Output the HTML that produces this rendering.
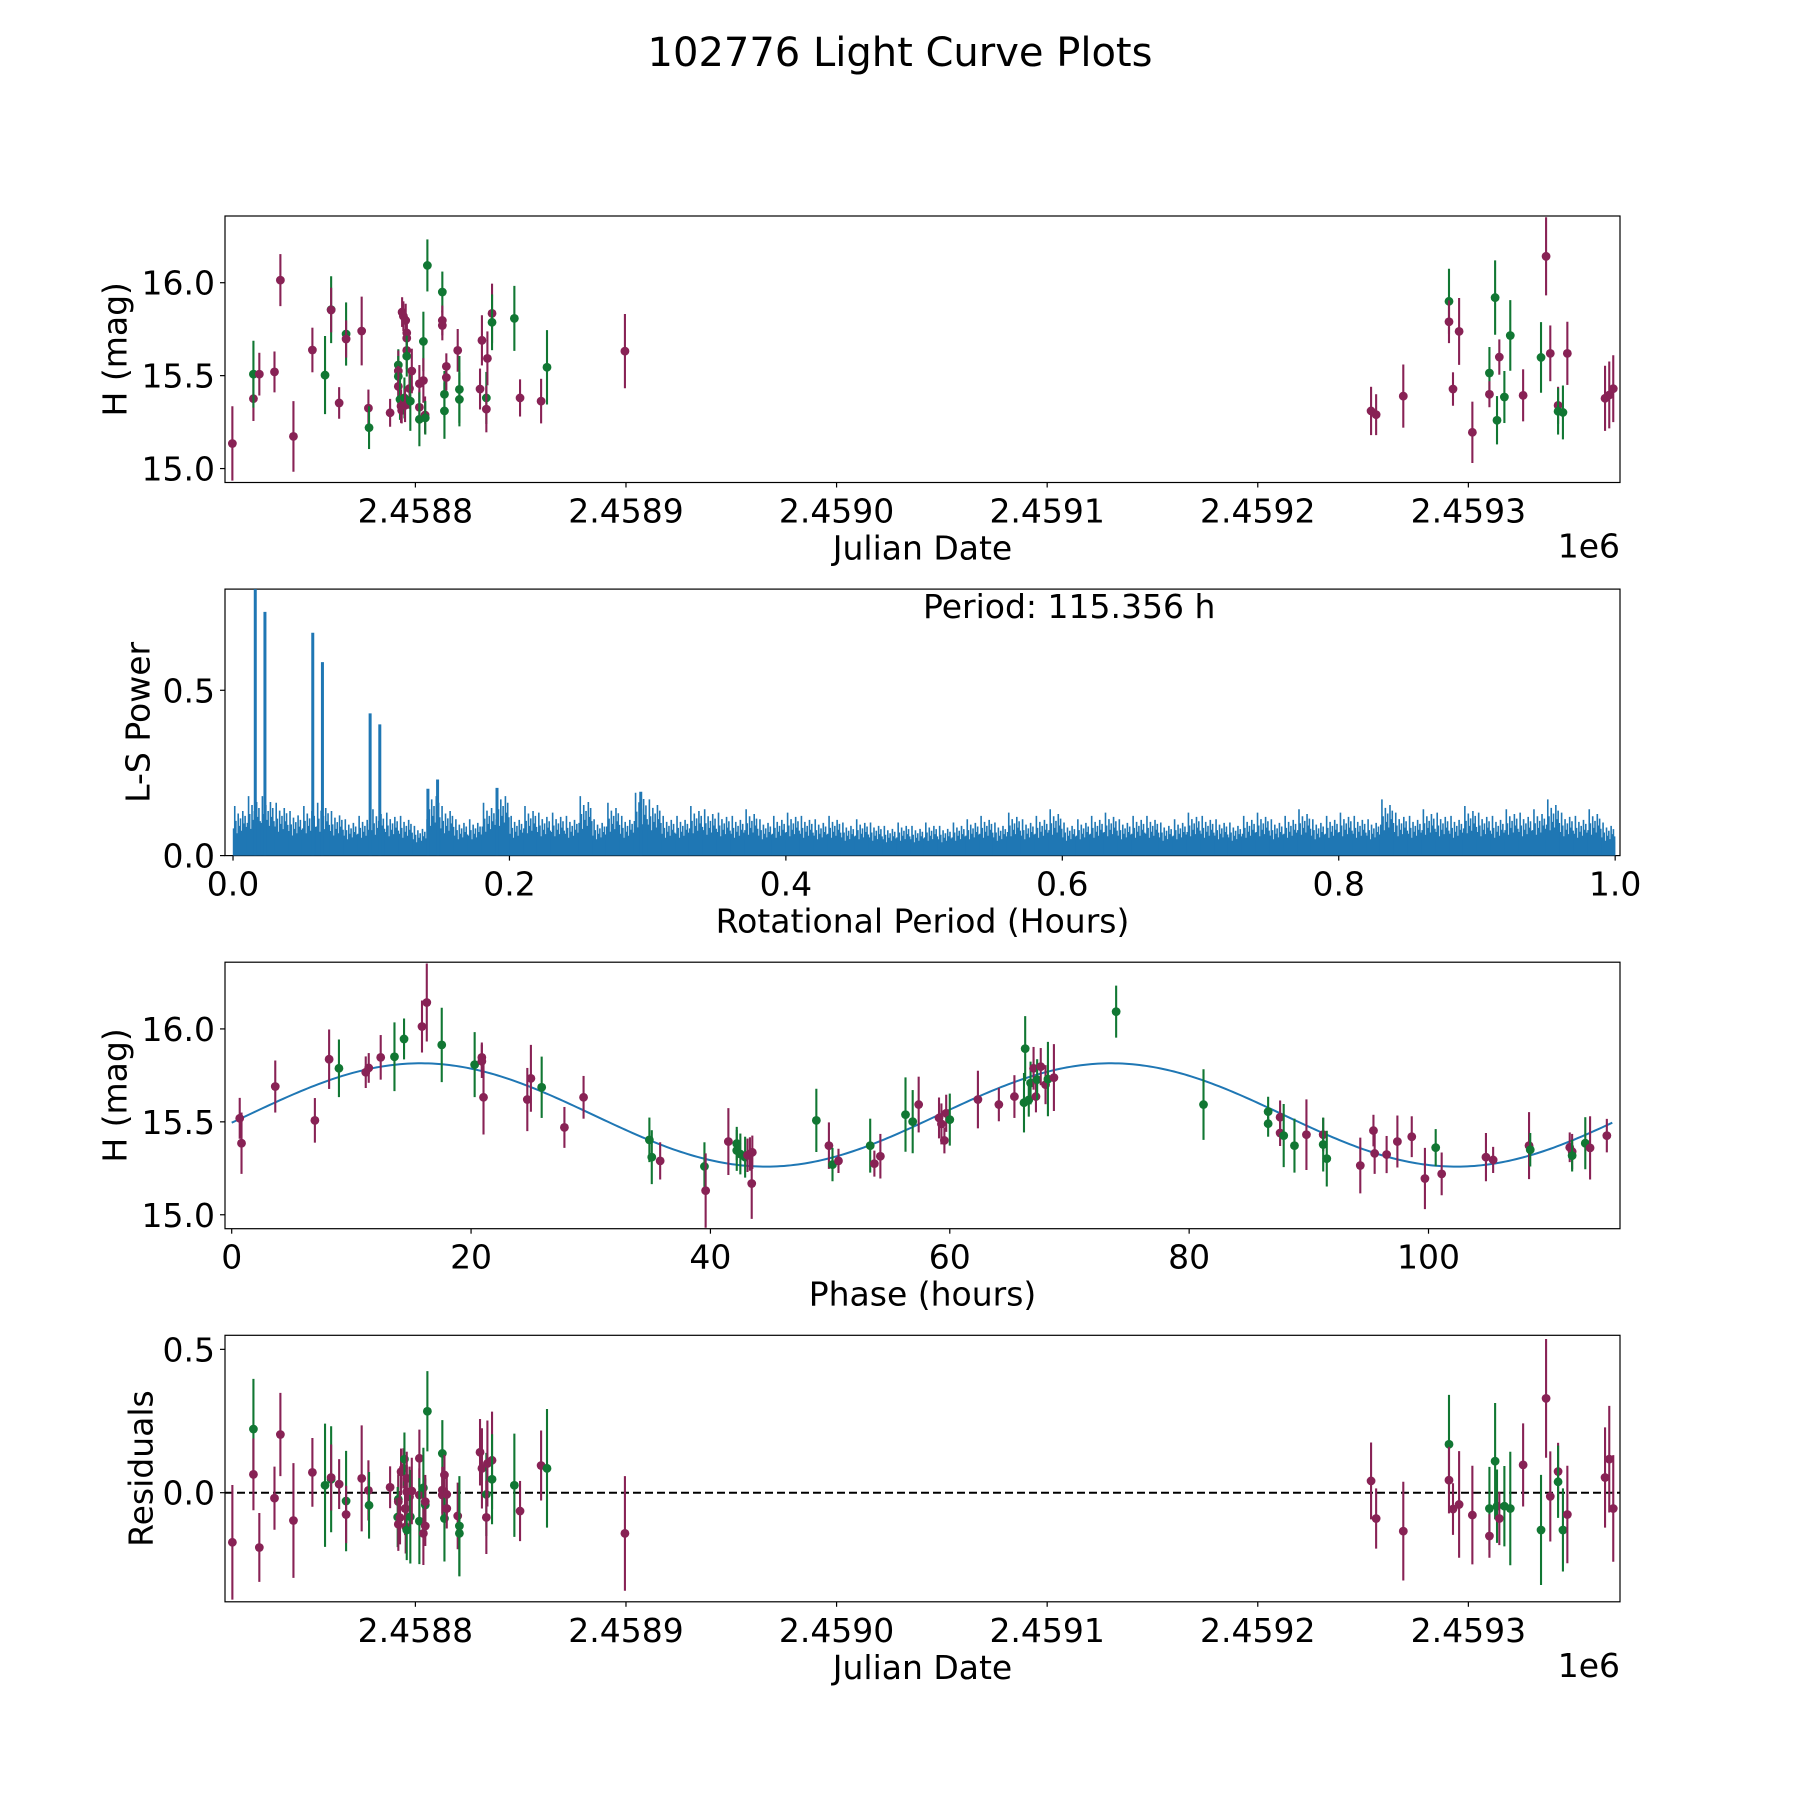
<!DOCTYPE html>
<html><head><meta charset="utf-8"><title>102776 Light Curve Plots</title>
<style>html,body{margin:0;padding:0;background:#fff}svg{display:block;font-family:"DejaVu Sans","Liberation Sans",sans-serif}</style>
</head><body>
<svg id="fig" xmlns="http://www.w3.org/2000/svg" width="1800" height="1800" viewBox="0 0 1800 1800">
<rect x="0" y="0" width="1800" height="1800" fill="#fff"/>
<text x="900" y="66" font-size="40" text-anchor="middle">102776 Light Curve Plots</text>
<g id="layer"></g>
</svg>
<script>
// ---------- Panel 1: light curve (days offset from JD 2458800) ----------
const lcDays=[-86.9,-76.9,-76.9,-74.1,-66.9,-64.1,-57.9,-48.9,-42.9,-40.0,-40.0,-36.2,-32.9,-32.9,-25.5,-22.3,-22.0,-12.0,-8.1,-8.1,-8.1,-8.1,-7.3,-6.8,-6.5,-6.3,-5.7,-5.2,-4.9,-4.6,-4.1,-4.1,-4.1,-4.1,-2.8,-2.4,-1.7,1.9,1.9,1.9,3.8,3.8,4.6,4.7,5.7,12.8,12.8,12.8,13.8,13.8,14.7,14.7,20.1,20.9,20.9,30.7,31.6,33.7,33.7,34.2,36.4,36.4,47.0,49.7,59.7,62.5,99.5,
453.8,456.2,469.1,490.8,490.8,492.7,495.6,501.9,510,510,512.7,513.6,514.7,517.1,519.9,526,534.5,536.9,538.9,542.6,542.6,544.9,547,564.9,566.9,568.8];
const lcMag=[15.135,15.376,15.508,15.508,15.52,16.014,15.173,15.638,15.503,15.855,15.853,15.353,15.724,15.697,15.74,15.325,15.22,15.3,15.557,15.525,15.496,15.442,15.372,15.336,15.313,15.842,15.82,15.38,15.34,15.797,15.73,15.702,15.636,15.605,15.431,15.363,15.525,15.457,15.33,15.265,15.684,15.474,15.288,15.273,16.093,15.95,15.797,15.77,15.4,15.31,15.55,15.49,15.636,15.426,15.372,15.428,15.69,15.38,15.32,15.593,15.835,15.787,15.808,15.38,15.363,15.545,15.632,
15.31,15.29,15.39,15.9,15.79,15.428,15.738,15.195,15.514,15.4,15.92,15.26,15.6,15.385,15.716,15.394,15.598,16.142,15.62,15.34,15.308,15.302,15.62,15.378,15.396,15.43];
const lcErr=[.2,.12,.18,.115,.11,.14,.19,.12,.21,.18,.12,.085,.17,.1,.185,.1,.115,.075,.085,.11,.11,.11,.11,.09,.07,.08,.08,.11,.09,.09,.09,.09,.1,.11,.11,.16,.12,.1,.09,.145,.16,.12,.1,.09,.14,.11,.08,.08,.125,.15,.07,.07,.115,.18,.145,.11,.135,.14,.125,.145,.16,.15,.175,.1,.12,.2,.2,
.13,.11,.17,.175,.115,.09,.18,.165,.14,.07,.2,.13,.095,.14,.19,.14,.19,.21,.15,.1,.125,.145,.17,.175,.18,.18];
const lcBand="PPGPPPPPGG"+"PPGPPPGPGP"+"GPGPPPPGPP"+"PPPGPGPPPG"+"GPPGGGPPGG"+"PPPGGPPGPP"+"PGGPPGP"+"PPPGPPPPGP"+"GGPGGPGPPP"+"GGPPPP";
const jdTicks=[2458800,2458900,2459000,2459100,2459200,2459300];
const jdTickLabels=["2.4588","2.4589","2.4590","2.4591","2.4592","2.4593"];
const magTicks=[15.0,15.5,16.0];
const magTickLabels=["15.0","15.5","16.0"];

// ---------- Panel 2: periodogram ----------
const lsEnvelope=[.15,.18,.18,.16,.135,.15,.16,.135,.11,.12,.14,.13,.12,.09,.2,.15,.11,.11,.16,.2,.12,.15,.13,.13,.12,.18,.11,.16,.12,.19,.17,.12,.12,.15,.14,
.13,.12,.14,.11,.12,.13,.12,.11,.12,.1,.11,.1,.09,.1,.09,.1,.09,.1,.11,.12,.1,.13,.11,.12,.14,.1,.11,.12,.13,.11,.12,.12,.1,.11,.13,.12,.11,.1,.12,.13,.11,.12,.14,.11,.12,.13,.12,.11,.17,.13,.12,.14,.13,.12,.15,.13,.12,.14,.13,.14,.17,.13,.12,.14,.1];
const lsSpikePeriod=[0.0161,0.0231,0.0577,0.0647,0.0992,0.1062,0.141,0.148,0.191,0.295];
const lsSpikePower=[0.81,0.737,0.674,0.585,0.43,0.397,0.202,0.23,0.205,0.193];
const perTicks=[0,0.2,0.4,0.6,0.8,1.0];
const perTickLabels=["0.0","0.2","0.4","0.6","0.8","1.0"];
const powTicks=[0,0.5];
const powTickLabels=["0.0","0.5"];

// ---------- Panel 3: phased light curve ----------
const phase=[0.67,0.82,3.64,6.95,8.14,8.96,11.2,11.45,12.45,13.6,14.4,15.9,16.3,17.55,20.3,20.9,20.9,21.04,24.7,25.0,25.9,27.8,29.4,34.9,35.1,35.8,39.5,39.6,41.5,42.2,42.2,42.5,42.9,43.1,43.3,43.5,43.45,48.85,49.9,50.2,50.7,53.35,53.7,54.2,56.3,56.9,57.4,
59.1,59.3,59.55,59.7,60.0,62.35,64.1,65.4,66.2,66.3,66.6,66.75,67.0,67.2,67.3,67.6,68.0,68.2,68.7,73.9,81.2,86.6,86.6,87.6,87.6,87.9,88.8,89.8,91.2,91.2,91.5,94.3,95.4,95.5,96.5,97.4,98.6,99.7,100.6,101.1,104.8,105.4,108.4,108.5,111.8,112.0,112.0,113.1,113.5,114.9];
const phaseMag=[15.519,15.385,15.69,15.508,15.837,15.788,15.767,15.79,15.847,15.85,15.946,16.013,16.142,15.914,15.808,15.847,15.826,15.632,15.62,15.734,15.686,15.47,15.632,15.403,15.31,15.29,15.26,15.13,15.394,15.383,15.346,15.327,15.31,15.32,15.327,15.336,15.168,15.508,15.372,15.27,15.29,15.372,15.275,15.315,15.539,15.501,15.593,
15.521,15.489,15.4,15.546,15.512,15.62,15.593,15.636,15.603,15.894,15.618,15.709,15.788,15.636,15.727,15.797,15.7,15.73,15.738,16.093,15.593,15.555,15.49,15.525,15.44,15.426,15.372,15.431,15.431,15.378,15.302,15.265,15.453,15.33,15.324,15.394,15.42,15.195,15.361,15.22,15.31,15.295,15.372,15.35,15.363,15.34,15.318,15.385,15.36,15.426];
const phaseErr=[.11,.165,.14,.12,.16,.155,.085,.08,.12,.185,.11,.14,.21,.2,.175,.08,.09,.2,.17,.18,.165,.11,.115,.12,.145,.1,.13,.2,.18,.09,.11,.11,.11,.09,.09,.09,.19,.17,.125,.09,.065,.145,.07,.12,.2,.17,.15,
.11,.11,.07,.1,.14,.155,.09,.115,.16,.175,.09,.115,.115,.085,.11,.1,.105,.2,.18,.14,.19,.08,.07,.09,.07,.17,.145,.19,.09,.145,.15,.15,.085,.11,.1,.14,.11,.165,.1,.115,.13,.07,.18,.09,.08,.095,.085,.14,.17,.09];
const phaseBand="PPPPPGPPPGGPPGGPPPPPGPPGGPGPPGGGGPPPPGPGPGPPGGP"+"PPPPGPPPGGGGPPGPPGPGGGGPPGGPPGGPPPPPPPGPPPPGPPGGP";
const fitMean=[15.537], fitAmp=[0.278], fitPhaseMax=[15.8], fitHalfPeriod=[57.678];
const phTicks=[0,20,40,60,80,100];
const phTickLabels=["0","20","40","60","80","100"];

// ---------- Panel 4: residuals ----------
const resDays=[-86.9,-76.9,-76.9,-74.1,-66.9,-64.1,-57.9,-48.9,-42.9,-40,-40,-36.2,-32.9,-32.9,-25.5,-22.3,-22,-12,-8.1,-8.1,-8.4,-8.1,-7.3,-6.8,-5.7,-5.2,-4.9,-4.6,-4.1,-4.1,-4.1,-2.8,-2.4,-1.7,1.9,1.9,1.9,3.8,3.8,4.7,4.7,4.7,5.7,12.8,12.8,12.8,13.8,13.8,14.9,14.9,20.1,20.9,20.9,30.7,31.6,33.7,33.7,34.2,36.4,36.4,47,49.7,59.7,62.5,99.5,
453.8,456.2,469.1,490.8,490.8,492.7,495.6,501.9,510,510,512.7,513.6,514.7,517.1,519.9,526,534.5,536.9,538.9,542.6,542.6,544.9,547,564.9,566.9,568.8];
const resVal=[-0.173,0.222,0.064,-0.191,-0.019,0.203,-0.097,0.071,0.026,0.047,0.053,0.03,-0.029,-0.076,0.05,0.008,-0.044,0.019,-0.023,-0.031,-0.085,-0.11,-0.087,0.073,0.085,0.117,-0.055,-0.119,-0.13,0.003,0.05,-0.014,-0.084,0.006,0.12,-0.008,-0.099,0.017,-0.142,-0.043,-0.031,-0.116,0.284,0.137,0.009,-0.008,-0.09,0.062,-0.006,-0.055,-0.081,-0.116,-0.142,0.141,0.085,-0.006,-0.086,0.102,0.113,0.047,0.026,-0.064,0.095,0.085,-0.142,
0.041,-0.09,-0.134,0.169,0.044,-0.057,-0.041,-0.078,-0.055,-0.151,0.11,-0.047,-0.09,-0.047,-0.055,0.097,-0.13,0.329,-0.013,0.074,0.038,-0.13,-0.076,0.053,0.117,-0.055];
const resErr=[.2,.175,.125,.12,.11,.145,.2,.12,.215,.185,.115,.087,.175,.1,.185,.105,.116,.073,.084,.105,.105,.093,.093,.081,.07,.093,.093,.093,.105,.093,.093,.105,.163,.116,.1,.093,.15,.14,.11,.093,.093,.07,.14,.116,.081,.081,.15,.07,.07,.07,.116,.174,.15,.116,.14,.145,.128,.15,.17,.157,.18,.105,.122,.207,.2,
.134,.105,.172,.172,.116,.09,.186,.172,.145,.076,.203,.128,.093,.14,.198,.145,.192,.207,.157,.1,.126,.145,.17,.175,.186,.186];
const resBand="PGPPPPPPGGPPGPPPGPGPGPPPPGPPGPPPGPPPGGPGPPGGPPGPPPPGGPPGPPPGGPPGP"+"PPPGPPPPGPGGPGGPGPPPGGPPPP";
const resTicks=[0,0.5];
const resTickLabels=["0.0","0.5"];

// ---------- layout ----------
const NS="http://www.w3.org/2000/svg";
const layer=document.getElementById('layer');
const L=225,R=1620,H=266.5,TOPS=[216,589.1,962.2,1335.3];
const PURPLE="#882255",GREEN="#117733",BLUE="#1f77b4";
function lin(d0,d1,p0,p1){return v=>p0+(v-d0)/(d1-d0)*(p1-p0);}
function mk(tag,attrs,parent){const e=document.createElementNS(NS,tag);for(const k in attrs)e.setAttribute(k,attrs[k]);(parent||layer).appendChild(e);return e;}

function axesFrame(i,name){
  const g=mk('g',{});
  
  
  const f=mk('rect',{x:L,y:TOPS[i],width:R-L,height:H,fill:'none',stroke:'#000','stroke-width':1.2},g);
  
  
  return g;
}
function xTicks(g,i,vals,labels,sx){
  const yb=TOPS[i]+H;
  vals.forEach((v,k)=>{
    const x=sx(v);
    const t=mk('line',{x1:x,x2:x,y1:yb,y2:yb+5,stroke:'#000','stroke-width':1.2},g);
    
    
    const tx=mk('text',{x:x,y:yb+40,'font-size':33,'text-anchor':'middle'},g);
    tx.textContent=labels[k];
    
    
  });
}
function yTicks(g,i,vals,labels,sy){
  vals.forEach((v,k)=>{
    const y=sy(v);
    const t=mk('line',{x1:L-5,x2:L,y1:y,y2:y,stroke:'#000','stroke-width':1.2},g);
    
    
    const tx=mk('text',{x:L-10,y:y+12,'font-size':33,'text-anchor':'end'},g);
    tx.textContent=labels[k];
    
    
  });
}
function xLabel(g,i,txt,name){
  const t=mk('text',{x:(L+R)/2,y:TOPS[i]+H+77,'font-size':33,'text-anchor':'middle'},g);
  t.textContent=txt;
  
  
}
function yLabel(g,i,txt,x,name){
  const cy=TOPS[i]+H/2;
  const t=mk('text',{x:x,y:cy,'font-size':33,'text-anchor':'middle','dominant-baseline':'central',transform:`rotate(-90 ${x} ${cy})`},g);
  t.textContent=txt;
  
  
}
function offsetText(g,i){
  const t=mk('text',{x:R,y:TOPS[i]+H+75,'font-size':33,'text-anchor':'end'},g);
  t.textContent="1e6";
  
  
}
function clip(i,id){
  const c=mk('clipPath',{id:id});
  mk('rect',{x:L,y:TOPS[i],width:R-L,height:H},c);
  return `url(#${id})`;
}
function errPoints(g,xs,ys,es,bands,sx,sy,name){
  for(let k=0;k<Math.min(xs.length,ys.length,es.length);k++){
    const col=bands[k]==='G'?GREEN:PURPLE;
    const x=sx(xs[k]);
    const l=mk('line',{x1:x,x2:x,y1:sy(ys[k]-es[k]),y2:sy(ys[k]+es[k]),stroke:col,'stroke-width':2.1},g);
    
    
    const c=mk('circle',{cx:x,cy:sy(ys[k]),r:4.4,fill:col},g);
    
    
  }
}

// Panel 1
(function(){
  const i=0,g=axesFrame(i,'light-curve-panel');
  const sx=lin(2458709.6,2459372.0,L,R), sy=lin(14.925,16.359,TOPS[i]+H,TOPS[i]);
  const pg=mk('g',{'clip-path':clip(i,'c0')},g);
  errPoints(pg,lcDays.map(d=>2458800+d),lcMag,lcErr,lcBand,sx,sy,'light-curve');
  xTicks(g,i,jdTicks,jdTickLabels,sx);
  yTicks(g,i,magTicks,magTickLabels,sy);
  xLabel(g,i,"Julian Date",'x-axis-title');
  yLabel(g,i,"H (mag)",115,'y-axis-title');
  offsetText(g,i);
})();

// Panel 2
(function(){
  const i=1,g=axesFrame(i,'periodogram-panel');
  const sx=lin(-0.0058,1.0035,L,R), sy=lin(0,0.806,TOPS[i]+H,TOPS[i]);
  const pg=mk('g',{'clip-path':clip(i,'c1')},g);
  const pat=[0.55,1,0.7,0.45,0.85,0.6,0.75,0.5,0.9,0.65,0.8,0.58];
  let d="";
  lsEnvelope.forEach((v,b)=>{
    const x0=sx(b*0.01), x1=sx((b+1)*0.01);
    d+=`M${x0} ${sy(0)}L${x0} ${sy(v*0.42)}L${x1} ${sy(v*0.42)}L${x1} ${sy(0)}Z`;
  });
  const base=mk('path',{d:d,fill:BLUE},pg);
  
  
  lsEnvelope.forEach((v,b)=>{
    let dl="";
    pat.forEach((p,k)=>{const x=sx((b+(k+0.5)/pat.length)*0.01);dl+=`M${x} ${sy(0)}L${x} ${sy(v*p)}`;});
    const ln=mk('path',{d:dl,stroke:BLUE,'stroke-width':1.6,fill:'none'},pg);
    
    
  });
  lsSpikePeriod.forEach((p,k)=>{
    const x=sx(p);
    const s=mk('line',{x1:x,x2:x,y1:sy(0),y2:sy(lsSpikePower[k]),stroke:BLUE,'stroke-width':3},pg);
    
    
  });
  xTicks(g,i,perTicks,perTickLabels,sx);
  yTicks(g,i,powTicks,powTickLabels,sy);
  xLabel(g,i,"Rotational Period (Hours)",'x-axis-title');
  yLabel(g,i,"L-S Power",138,'y-axis-title');
  const t=mk('text',{x:923,y:618,'font-size':33},g);
  t.textContent="Period: 115.356 h";
  
  
})();

// Panel 3
(function(){
  const i=2,g=axesFrame(i,'phased-curve-panel');
  const sx=lin(-0.56,116.0,L,R), sy=lin(14.925,16.359,TOPS[i]+H,TOPS[i]);
  const pg=mk('g',{'clip-path':clip(i,'c2')},g);
  let d="";
  for(let s=0;s<=400;s++){
    const ph=115.356*s/400;
    const m=fitMean[0]+fitAmp[0]*Math.cos(2*Math.PI*(ph-fitPhaseMax[0])/fitHalfPeriod[0]);
    d+=(s?'L':'M')+sx(ph).toFixed(2)+' '+sy(m).toFixed(2);
  }
  const fl=mk('path',{d:d,stroke:BLUE,'stroke-width':2,fill:'none'},pg);
  
  
  errPoints(pg,phase,phaseMag,phaseErr,phaseBand,sx,sy,'phased');
  xTicks(g,i,phTicks,phTickLabels,sx);
  yTicks(g,i,magTicks,magTickLabels,sy);
  xLabel(g,i,"Phase (hours)",'x-axis-title');
  yLabel(g,i,"H (mag)",115,'y-axis-title');
})();

// Panel 4
(function(){
  const i=3,g=axesFrame(i,'residuals-panel');
  const sx=lin(2458709.6,2459372.0,L,R), sy=lin(-0.3805,0.549,TOPS[i]+H,TOPS[i]);
  const pg=mk('g',{'clip-path':clip(i,'c3')},g);
  const z=mk('line',{x1:L,x2:R,y1:sy(0),y2:sy(0),stroke:'#000','stroke-width':2,'stroke-dasharray':'8 4'},pg);
  
  
  errPoints(pg,resDays.map(d=>2458800+d),resVal,resErr,resBand,sx,sy,'residual');
  xTicks(g,i,jdTicks,jdTickLabels,sx);
  yTicks(g,i,resTicks,resTickLabels,sy);
  xLabel(g,i,"Julian Date",'x-axis-title');
  yLabel(g,i,"Residuals",141,'y-axis-title');
  offsetText(g,i);
})();
</script>
</body></html>
